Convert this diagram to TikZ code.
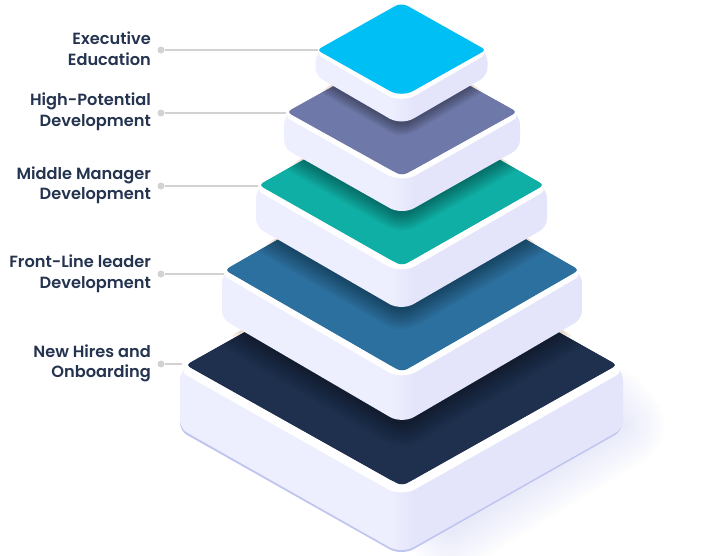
\documentclass[tikz,border=0pt]{standalone}
\usepackage{fontspec}
\setmainfont{Poppins}[UprightFont=* SemiBold]
\definecolor{navy}{HTML}{1F304F}
\definecolor{ocean}{HTML}{2C709F}
\definecolor{teal}{HTML}{10AFA5}
\definecolor{slate}{HTML}{6F79A9}
\definecolor{sky}{HTML}{00BFF5}
\definecolor{sideleft}{HTML}{EEEFFE}
\definecolor{sideright}{HTML}{E4E5FA}
\definecolor{baserim}{HTML}{BFC5EE}
\definecolor{peach}{HTML}{D9B49C}
\definecolor{tagtext}{HTML}{24334F}
\definecolor{leader}{HTML}{D2D2D2}
\def\pL{0}\def\pR{0}\def\pY{0}\def\pB{0}\def\pD{0}\def\pC{white}
% colour, left, right, middle y, bottom y, rim inset, rim drop, height
\newcommand{\tier}[8]{
    \pgfmathsetmacro{\cx}{(#2+#3)/2}
    \pgfmathsetmacro{\rL}{#2-#6}
    \pgfmathsetmacro{\rR}{#3+#6}
    \pgfmathsetmacro{\rY}{#4+#7*0.6}
    \pgfmathsetmacro{\rB}{#5+#7}
    \pgfmathsetmacro{\rT}{2*#4-#5-#6}
    \pgfmathsetmacro{\fT}{2*#4-#5}
    \pgfmathsetmacro{\lowY}{\rY+#8}
    \pgfmathsetmacro{\lowB}{\rB+#8}
    % shadow on the tier below
    \begin{scope}
        \clip[rounded corners=8] (\pL-\pD,\pY) -- (402,\pB+\pD) -- (\pR+\pD,\pY) -- (402,2*\pY-\pB-\pD) -- cycle;
        \foreach \n in {1,...,5}
            \draw[peach, opacity=0.14, line width={\n*4}, rounded corners=8] (\rL,#4) -- (\rL,\lowY) -- (\cx,\lowB) -- (\rR,\lowY) -- (\rR,#4) -- cycle;
    \end{scope}
    \begin{scope}
        \clip[rounded corners=6] (\pL,\pY) -- (402,\pB) -- (\pR,\pY) -- (402,2*\pY-\pB) -- cycle;
        \fill[\pC] (0,0) rectangle (706,555);
        \foreach \n in {1,...,10}
            \draw[black, opacity=0.04, line width={\n*#8*0.11}, rounded corners=8] (\rL,#4) -- (\rL,\lowY) -- (\cx,\lowB) -- (\rR,\lowY) -- (\rR,#4) -- cycle;
    \end{scope}
    % side faces
    \begin{scope}
        \clip[rounded corners=8] (\rL,\rY) -- (\rL,\lowY) [rounded corners=14] -- (\cx,\lowB) [rounded corners=8] -- (\rR,\lowY) -- (\rR,\rY) -- (\cx,\rT) -- cycle;
        \fill[sideleft] (\rL-2,\rT) rectangle (\cx-12,\lowB+2);
        \shade[left color=sideleft, right color=sideright] (\cx-12,\rT) rectangle (\cx+12,\lowB+2);
        \fill[sideright] (\cx+12,\rT) rectangle (\rR+2,\lowB+2);
    \end{scope}
    % rim and top
    \fill[white, rounded corners=7] (\rL,\rY) [rounded corners=16] -- (\cx,\rB) [rounded corners=7] -- (\rR,\rY) -- (\cx,\rT) -- cycle;
    \fill[#1, rounded corners=4] (#2,#4) [rounded corners=13] -- (\cx,#5) [rounded corners=4] -- (#3,#4) [rounded corners=7] -- (\cx,\fT) [rounded corners=4] -- cycle;
    \def\pL{#2}\def\pR{#3}\def\pY{#4}\def\pB{#5}\def\pD{#6}\def\pC{#1}
}
\begin{document}
\begin{tikzpicture}[x=1pt, y=-1pt]
    \tikzstyle{tag} = [anchor=east, align=right, inner sep=0pt, text=tagtext, font=\fontsize{16.2}{20.5}\selectfont]
    \tikzstyle{dotmark} = [circle, fill=leader, inner sep=0pt, minimum size=7pt]
    \tikzstyle{leaderline} = [leader, line width=1.1pt]
    \useasboundingbox (0,0) rectangle (706,555);
    % ground shadow
    \begin{scope}
        \clip (0,0) rectangle (706,555);
        \foreach \n in {1,...,14}
            \draw[baserim, opacity=0.03, line width={\n*6}, line join=round] (610,410) -- (622,425) -- (450,530) -- (440,520) -- cycle;
    \end{scope}
    % leaders
    \node[dotmark] (dotExecutive) at (161,50) {};
    \node[dotmark] (dotPotential) at (161,113) {};
    \node[dotmark] (dotMiddle) at (161,186) {};
    \node[dotmark] (dotFront) at (161,274) {};
    \node[dotmark] (dotHires) at (161,364) {};
    \coordinate (endExecutive) at (318,50);
    \coordinate (endPotential) at (286,113);
    \coordinate (endMiddle) at (258,186);
    \coordinate (endFront) at (224,274);
    \coordinate (endHires) at (182,364);
    \draw[leaderline] (dotExecutive) -- (endExecutive);
    \draw[leaderline] (dotPotential) -- (endPotential);
    \draw[leaderline] (dotMiddle) -- (endMiddle);
    \draw[leaderline] (dotFront) -- (endFront);
    \draw[leaderline] (dotHires) -- (endHires);
    % tiers, bottom first
    \fill[baserim, rounded corners=8] (180,372) -- (180,431) [rounded corners=14] -- (401.5,556) [rounded corners=8] -- (622,431) -- (622,372) -- cycle;
    \tier{navy}{186}{617}{365}{486}{6}{11}{57}
    \tier{ocean}{225}{579}{270}{372}{3}{8}{44}
    \tier{teal}{259}{544}{185}{266}{3}{8}{37}
    \tier{slate}{287}{517}{112}{176}{3}{7}{32}
    \tier{sky}{317}{486}{50}{97.5}{1.5}{6}{22}
    % labels
    \node[tag] (tagExecutive) at (151,48.5) {Executive\\Education};
    \node[tag] (tagPotential) at (151,112) {High-Potential\\Development};
    \node[tag] (tagMiddle) at (151,185.5) {Middle Manager\\Development};
    \node[tag] (tagFront) at (151,274) {Front-Line leader\\Development};
    \node[tag] (tagHires) at (151,363.5) {New Hires and\\Onboarding};
\end{tikzpicture}
\end{document}
